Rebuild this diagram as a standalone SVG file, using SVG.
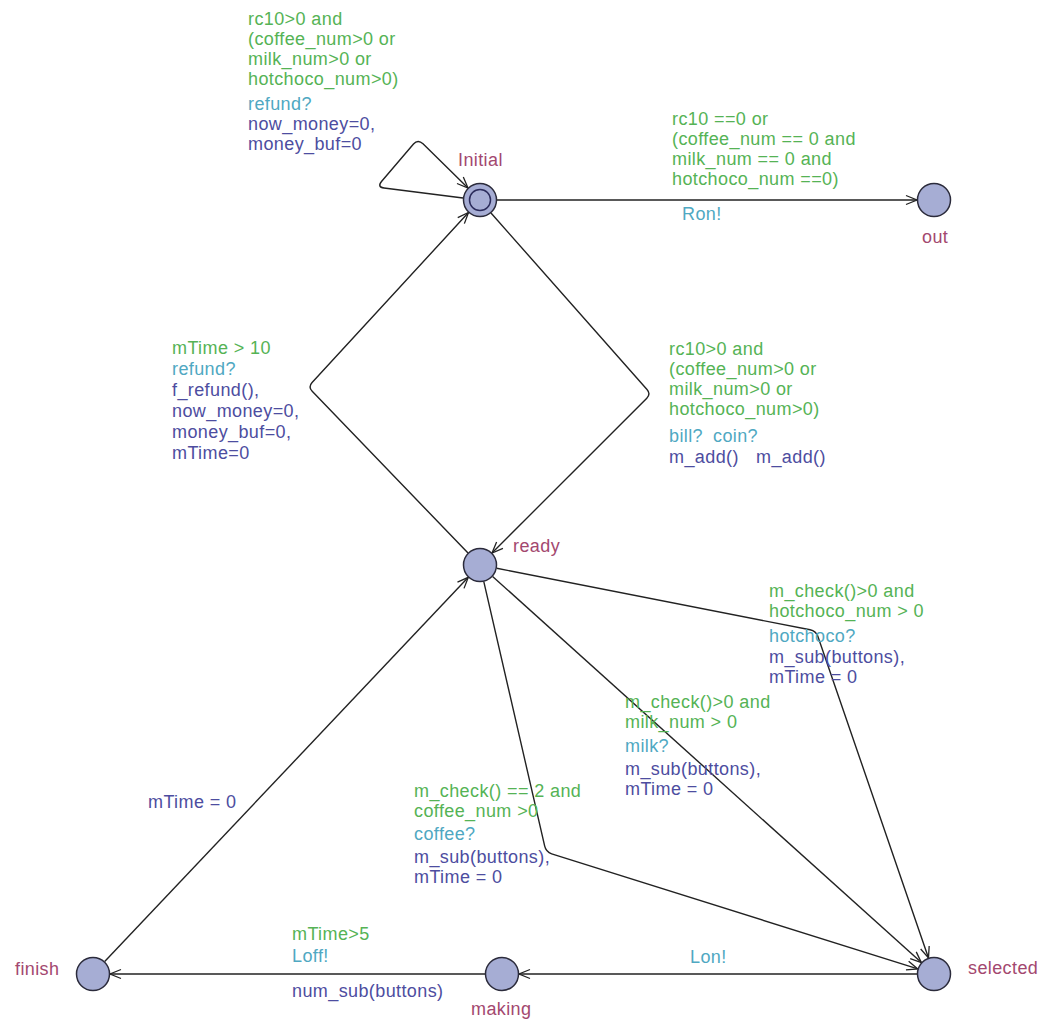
<svg xmlns="http://www.w3.org/2000/svg" width="1041" height="1023" viewBox="0 0 1041 1023">
<defs>
<marker id="arr" markerUnits="userSpaceOnUse" markerWidth="14" markerHeight="12" viewBox="-12 -6 14 12" refX="0" refY="0" orient="auto">
<path d="M-11,-4.5 L0,0 L-11,4.5" fill="none" stroke="#222" stroke-width="1.3"/>
</marker>
</defs>
<style>
text{font-family:"Liberation Sans",Arial,sans-serif;font-size:18px;letter-spacing:0.4px}
.g{fill:#55b355}
.s{fill:#4fa8c2}
.u{fill:#4d4da0}
.n{fill:#a3486f}
.loc{fill:#a6add4;stroke:#2b2b3b;stroke-width:1.5}
.e{fill:none;stroke:#222;stroke-width:1.4}
</style>
<rect width="1041" height="1023" fill="#fff"/>
<g id="connectors">
<path class="e" d="M463,198 L384,188 Q377,187 381.5,181.5 L413.5,144 Q418,139 423,143.8 L468,188" marker-end="url(#arr)"/>
<path class="e" d="M497,200 L917,200" marker-end="url(#arr)"/>
<path class="e" d="M491,213 L647,389.5 Q651,394 646.8,398.2 L492,553" marker-end="url(#arr)"/>
<path class="e" d="M468,553 L312.2,391.3 Q308,387 312.1,382.6 L468.5,212.5" marker-end="url(#arr)"/>
<path class="e" d="M496.7,568.3 L810.1,629.8 Q816,631 818,636.7 L928.5,957.9" marker-end="url(#arr)"/>
<path class="e" d="M492.6,576.4 L921.4,962.6" marker-end="url(#arr)"/>
<path class="e" d="M483.8,581.6 L544.7,846.2 Q546,852 551.7,853.8 L917.8,968.9" marker-end="url(#arr)"/>
<path class="e" d="M104.7,961.6 L468.3,577.3" marker-end="url(#arr)"/>
<path class="e" d="M917,974 L519,974" marker-end="url(#arr)"/>
<path class="e" d="M485,974 L110,974" marker-end="url(#arr)"/>
</g>
<g id="labels">
<text x="248" y="25" class="g">rc10&gt;0 and</text>
<text x="248" y="45" class="g">(coffee_num&gt;0 or</text>
<text x="248" y="65" class="g">milk_num&gt;0 or</text>
<text x="248" y="85" class="g">hotchoco_num&gt;0)</text>
<text x="248" y="110" class="s">refund?</text>
<text x="248" y="130" class="u">now_money=0,</text>
<text x="248" y="150" class="u">money_buf=0</text>

<text x="672" y="125" class="g">rc10 ==0 or</text>
<text x="672" y="145" class="g">(coffee_num == 0 and</text>
<text x="672" y="165" class="g">milk_num == 0 and</text>
<text x="672" y="185" class="g">hotchoco_num ==0)</text>
<text x="682" y="220" class="s">Ron!</text>

<text x="172" y="354" class="g">mTime &gt; 10</text>
<text x="172" y="375" class="s">refund?</text>
<text x="172" y="396" class="u">f_refund(),</text>
<text x="172" y="417" class="u">now_money=0,</text>
<text x="172" y="438" class="u">money_buf=0,</text>
<text x="172" y="459" class="u">mTime=0</text>

<text x="669" y="355" class="g">rc10&gt;0 and</text>
<text x="669" y="375" class="g">(coffee_num&gt;0 or</text>
<text x="669" y="395" class="g">milk_num&gt;0 or</text>
<text x="669" y="415" class="g">hotchoco_num&gt;0)</text>
<text x="669" y="442" class="s">bill?</text>
<text x="713" y="442" class="s">coin?</text>
<text x="669" y="463" class="u">m_add()</text>
<text x="756" y="463" class="u">m_add()</text>

<text x="769" y="597" class="g">m_check()&gt;0 and</text>
<text x="769" y="617" class="g">hotchoco_num &gt; 0</text>
<text x="769" y="642" class="s">hotchoco?</text>
<text x="769" y="663" class="u">m_sub(buttons),</text>
<text x="769" y="683" class="u">mTime = 0</text>

<text x="625" y="708" class="g">m_check()&gt;0 and</text>
<text x="625" y="728" class="g">milk_num &gt; 0</text>
<text x="625" y="752" class="s">milk?</text>
<text x="625" y="775" class="u">m_sub(buttons),</text>
<text x="625" y="795" class="u">mTime = 0</text>

<text x="414" y="797" class="g">m_check() == 2 and</text>
<text x="414" y="817" class="g">coffee_num &gt;0</text>
<text x="414" y="840" class="s">coffee?</text>
<text x="414" y="863" class="u">m_sub(buttons),</text>
<text x="414" y="883" class="u">mTime = 0</text>

<text x="148" y="808" class="u">mTime = 0</text>

<text x="292" y="940" class="g">mTime&gt;5</text>
<text x="292" y="962" class="s">Loff!</text>
<text x="292" y="997" class="u">num_sub(buttons)</text>
<text x="690" y="963" class="s">Lon!</text>
</g>
<g id="Initial">
<circle class="loc" cx="480" cy="200" r="16.5"/>
<circle cx="480" cy="200" r="10.5" fill="none" stroke="#2b2b5b" stroke-width="1.5"/>
<text x="458" y="166" class="n">Initial</text>
</g>
<g id="out">
<circle class="loc" cx="934" cy="200" r="16.5"/>
<text x="922" y="243" class="n">out</text>
</g>
<g id="ready">
<circle class="loc" cx="480" cy="565" r="16.5"/>
<text x="513" y="552" class="n">ready</text>
</g>
<g id="selected">
<circle class="loc" cx="934" cy="974" r="16.5"/>
<text x="968" y="974" class="n">selected</text>
</g>
<g id="making">
<circle class="loc" cx="502" cy="974" r="16.5"/>
<text x="471" y="1015" class="n">making</text>
</g>
<g id="finish">
<circle class="loc" cx="93" cy="974" r="16.5"/>
<text x="15" y="975" class="n">finish</text>
</g>
</svg>
